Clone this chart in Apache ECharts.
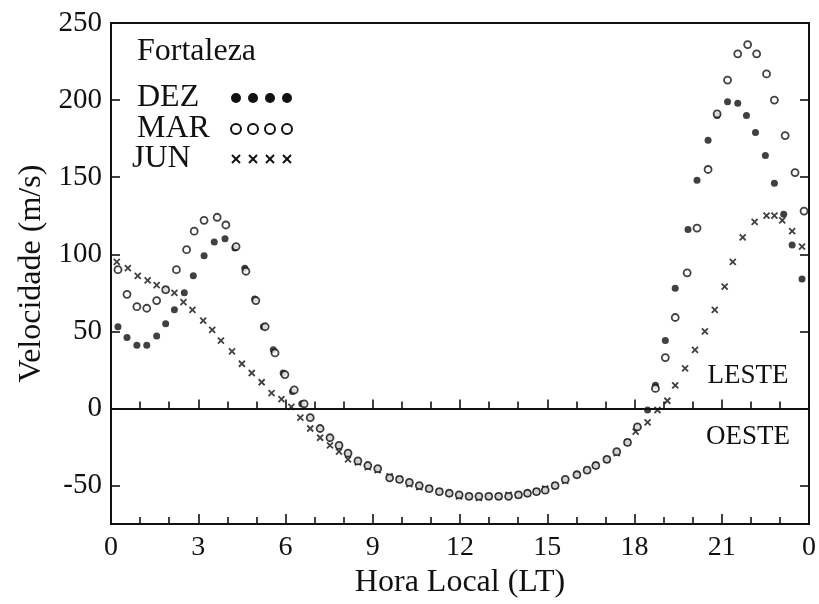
<!DOCTYPE html>
<html>
<head>
<meta charset="utf-8">
<script src="https://cdn.jsdelivr.net/npm/echarts@6/dist/echarts.min.js"></script>
<style>
  html, body { margin: 0; padding: 0; background: #fff; }
  #chart { width: 819px; height: 604px; }
</style>
</head>
<body>
<div id="chart"></div>
<script>
// Zonal drift velocity over Fortaleza by local time (positive = eastward)
const dezHour = [0.24,0.55,0.89,1.23,1.57,1.88,2.18,2.52,2.83,3.2,3.55,3.92,4.26,4.6,4.94,5.24,5.58,5.92,6.24,6.56,
  6.85,7.19,7.53,7.84,8.15,8.49,8.83,9.17,9.58,9.92,10.26,10.6,10.94,11.29,11.63,11.97,12.31,12.65,12.99,13.33,13.67,14.01,14.32,14.63,14.93,15.27,15.62,16.02,16.37,16.67,17.05,17.39,17.76,18.1,18.45,
  18.72,19.06,19.4,19.84,20.15,20.53,20.84,21.2,21.55,21.85,22.16,22.5,22.81,23.13,23.42,23.76];
const dezVel = [53,46,41,41,47,55,64,75,86,99,108,110,104,91,71,53,38,23,11,3,
  -6,-13,-19,-24,-29,-34,-37,-39,-45,-46,-48,-50,-52,-54,-55,-56,-57,-57,-57,-57,-57,-56,-55,-54,-53,-50,-46,-43,-40,-37,-33,-28,-22,-12,-1,
  15,44,78,116,148,174,190,199,198,190,179,164,146,126,106,84];

const marHour = [0.24,0.55,0.89,1.23,1.57,1.88,2.25,2.6,2.86,3.2,3.65,3.95,4.3,4.64,4.98,5.3,5.64,5.98,6.3,6.64,
  6.85,7.19,7.53,7.84,8.15,8.49,8.83,9.17,9.58,9.92,10.26,10.6,10.94,11.29,11.63,11.97,12.31,12.65,12.99,13.33,13.67,14.01,14.32,14.63,14.93,15.27,15.62,16.02,16.37,16.67,17.05,17.39,17.76,18.1,
  18.72,19.06,19.4,19.81,20.15,20.53,20.84,21.2,21.55,21.89,22.2,22.54,22.81,23.18,23.52,23.83];
const marVel = [90,74,66,65,70,77,90,103,115,122,124,119,105,89,70,53,36,22,12,3,
  -6,-13,-19,-24,-29,-34,-37,-39,-45,-46,-48,-50,-52,-54,-55,-56,-57,-57,-57,-57,-57,-56,-55,-54,-53,-50,-46,-43,-40,-37,-33,-28,-22,-12,
  13,33,59,88,117,155,191,213,230,236,230,217,200,177,153,128];

const junHour = [0.2,0.58,0.92,1.26,1.57,1.88,2.18,2.49,2.8,3.17,3.48,3.78,4.16,4.5,4.84,5.18,5.52,5.86,6.2,
  6.51,6.85,7.19,7.53,7.84,8.15,8.49,8.83,9.17,9.58,9.92,10.26,10.6,10.94,11.29,11.63,11.97,12.31,12.65,12.99,13.33,13.67,14.01,14.32,14.63,14.93,15.27,15.62,16.02,16.37,16.67,17.05,17.39,17.76,18.04,18.45,
  18.79,19.13,19.4,19.74,20.08,20.42,20.76,21.1,21.38,21.72,22.13,22.54,22.81,23.08,23.42,23.76];
const junVel = [95,91,86,83,80,77,75,69,64,57,51,44,37,29,23,17,10,6,1,
  -6,-13,-19,-24,-28,-33,-35,-38,-40,-44,-46,-49,-51,-52,-54,-55,-57,-57,-58,-57,-57,-56,-56,-55,-54,-52,-50,-47,-43,-40,-37,-33,-29,-22,-15,-9,
  -1,5,15,26,38,50,64,79,95,111,121,125,125,122,115,105];

const velTicks = [-50, 0, 50, 100, 150, 200, 250];

const seriesNames = ['DEZ', 'MAR', 'JUN'];

const zip = (xs, ys) => xs.map((x, i) => [x, ys[i]]);

const SERIF = '"Liberation Serif", "Times New Roman", serif';
const INK = '#111';

const chart = echarts.init(document.getElementById('chart'), null, { renderer: 'canvas' });

// Legend block and region captions
const legendRows = [
  { name: seriesNames[0], y: 98, kind: 'filled' },
  { name: seriesNames[1], y: 129, kind: 'open' },
  { name: seriesNames[2], y: 159, kind: 'cross' }
];
const legendGraphics = [];
legendGraphics.push({
  type: 'text', left: 137, top: 36,
  style: { text: 'Fortaleza', font: '32px ' + SERIF, fill: INK }
});
legendRows.forEach((row, r) => {
  legendGraphics.push({
    type: 'text', x: r === 2 ? 132 : 137, y: row.y,
    style: { text: row.name, font: '32px ' + SERIF, fill: INK, textVerticalAlign: 'middle' }
  });
  [236, 253, 270, 287].forEach(cx => {
    if (row.kind === 'cross') {
      legendGraphics.push({
        type: 'polyline', shape: { points: [[cx - 4, row.y - 4], [cx + 4, row.y + 4]] },
        style: { stroke: INK, lineWidth: 2, fill: null }
      });
      legendGraphics.push({
        type: 'polyline', shape: { points: [[cx + 4, row.y - 4], [cx - 4, row.y + 4]] },
        style: { stroke: INK, lineWidth: 2, fill: null }
      });
    } else {
      legendGraphics.push({
        type: 'circle', shape: { cx: cx, cy: row.y, r: 5 },
        style: row.kind === 'filled' ? { fill: INK } : { fill: '#fff', stroke: INK, lineWidth: 2 }
      });
    }
  });
});
legendGraphics.push({
  type: 'text', x: 748, y: 376,
  style: { text: 'LESTE', font: '27px ' + SERIF, fill: INK, textAlign: 'center', textVerticalAlign: 'middle' }
});
legendGraphics.push({
  type: 'text', x: 748, y: 437,
  style: { text: 'OESTE', font: '27px ' + SERIF, fill: INK, textAlign: 'center', textVerticalAlign: 'middle' }
});

const tickLine = { color: INK, width: 1.6 };

const option = {
  backgroundColor: '#fff',
  animation: false,
  grid: {
    left: 111, right: 4, top: 23, bottom: 79,
    show: true, borderColor: INK, borderWidth: 2, backgroundColor: 'transparent'
  },
  xAxis: [
    {
      type: 'value', min: 0, max: 24, interval: 3, position: 'bottom',
      name: 'Hora Local (LT)', nameLocation: 'middle', nameGap: 42,
      nameTextStyle: { fontFamily: SERIF, fontSize: 32, color: INK },
      axisLine: { show: true, onZero: false, lineStyle: { color: INK, width: 2 } },
      axisTick: { show: true, inside: true, length: 10, lineStyle: tickLine },
      minorTick: { show: true, splitNumber: 3, length: 7, lineStyle: tickLine },
      axisLabel: {
        fontFamily: SERIF, fontSize: 28, color: INK, margin: 10,
        formatter: v => (v === 24 ? '0' : String(v))
      },
      splitLine: { show: false }
    },
    {
      // zero line separating eastward and westward drift
      type: 'value', min: 0, max: 24, interval: 3, position: 'bottom',
      axisLine: { show: true, onZero: true, lineStyle: { color: INK, width: 2 } },
      axisTick: { show: true, inside: true, length: 9, lineStyle: tickLine },
      minorTick: { show: true, splitNumber: 3, length: 7, lineStyle: tickLine },
      axisLabel: { show: false },
      splitLine: { show: false }
    }
  ],
  yAxis: [
    {
      type: 'value', min: -75, max: 250, position: 'left',
      name: 'Velocidade (m/s)', nameLocation: 'middle', nameGap: 60,
      nameTextStyle: { fontFamily: SERIF, fontSize: 32, color: INK },
      axisLine: { show: true, onZero: false, lineStyle: { color: INK, width: 2 } },
      axisTick: { show: true, inside: true, length: 9, customValues: velTicks, lineStyle: tickLine },
      axisLabel: { fontFamily: SERIF, fontSize: 29, color: INK, margin: 9, customValues: velTicks },
      splitLine: { show: false }
    },
    {
      type: 'value', min: -75, max: 250, position: 'right',
      axisLine: { show: true, onZero: false, lineStyle: { color: INK, width: 2 } },
      axisTick: { show: true, inside: true, length: 9, customValues: velTicks, lineStyle: tickLine },
      axisLabel: { show: false },
      splitLine: { show: false }
    }
  ],
  graphic: legendGraphics,
  series: [
    {
      name: seriesNames[2], type: 'scatter', xAxisIndex: 0, yAxisIndex: 0,
      symbol: 'path://M0,0L10,10M10,0L0,10', symbolSize: 6,
      itemStyle: { color: 'transparent', borderColor: INK, borderWidth: 1.8 },
      data: zip(junHour, junVel)
    },
    {
      name: seriesNames[0], type: 'scatter', xAxisIndex: 0, yAxisIndex: 0,
      symbol: 'circle', symbolSize: 7,
      itemStyle: { color: INK },
      data: zip(dezHour, dezVel)
    },
    {
      name: seriesNames[1], type: 'scatter', xAxisIndex: 0, yAxisIndex: 0,
      symbol: 'circle', symbolSize: 7,
      itemStyle: { color: '#fff', borderColor: INK, borderWidth: 1.8 },
      data: zip(marHour, marVel)
    }
  ]
};

chart.setOption(option);
</script>
</body>
</html>
